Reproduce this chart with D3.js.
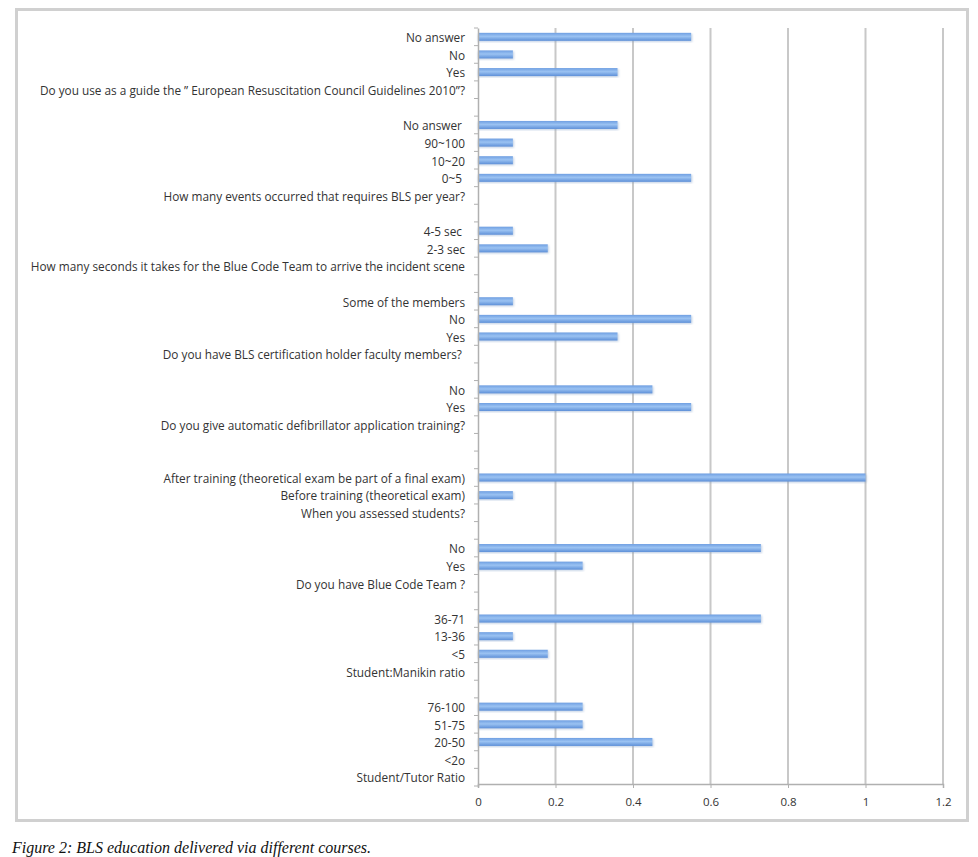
<!DOCTYPE html>
<html>
<head>
<meta charset="utf-8">
<script src="https://cdn.jsdelivr.net/npm/d3@7"></script>
<style>
	body { margin: 0; background: #fff; }
	svg text { font-family: "Open Sans", "DejaVu Sans", sans-serif; }
</style>
</head>
<body>
<div id="chart"></div>
<script>
// categories listed top to bottom, '' marks the blank spacer rows
var categories = [
	'No answer', 'No', 'Yes',
	'Do you use as a guide the \u201D European Resuscitation Council Guidelines 2010\u201D?', '',
	'No answer ', '90~100', '10~20', '0~5 ',
	'How many events occurred that requires BLS per year?', '',
	'4-5 sec ', '2-3 sec',
	'How many seconds it takes for the Blue Code Team to arrive the incident scene', '',
	'Some of the members', 'No', 'Yes',
	'Do you have BLS certification holder faculty members? ', '',
	'No', 'Yes',
	'Do you give automatic defibrillator application training?', '', '',
	'After training (theoretical exam be part of a final exam)', 'Before training (theoretical exam)',
	'When you assessed students?', '',
	'No', 'Yes',
	'Do you have Blue Code Team ?', '',
	'36-71', '13-36', '<5',
	'Student:Manikin ratio', '',
	'76-100', '51-75', '20-50', '<2o',
	'Student/Tutor Ratio'
];

var values = [
	0.55, 0.09, 0.36, 0, 0,
	0.36, 0.09, 0.09, 0.55, 0, 0,
	0.09, 0.18, 0, 0,
	0.09, 0.55, 0.36, 0, 0,
	0.45, 0.55, 0, 0, 0,
	1.0, 0.09, 0, 0,
	0.73, 0.27, 0, 0,
	0.73, 0.09, 0.18, 0, 0,
	0.27, 0.27, 0.45, 0, 0
];

var xTicks = [0, 0.2, 0.4, 0.6, 0.8, 1, 1.2];

var caption = 'Figure 2: BLS education delivered via different courses.';

var W = 978, H = 857;
var margin = {top: 28, bottom: 786, left: 478, right: 943};

var svg = d3.select('#chart')
	.append('svg')
	.attr('width', W)
	.attr('height', H);

// bar gradient, glossy Excel look
var defs = svg.append('defs');
var grad = defs.append('linearGradient')
	.attr('id', 'barGrad')
	.attr('x1', 0).attr('y1', 0).attr('x2', 0).attr('y2', 1);
grad.append('stop').attr('offset', '0%').attr('stop-color', '#6f9fe2');
grad.append('stop').attr('offset', '45%').attr('stop-color', '#9ac2f2');
grad.append('stop').attr('offset', '100%').attr('stop-color', '#5e90d8');

defs.append('filter')
	.attr('id', 'soft')
	.append('feGaussianBlur')
	.attr('stdDeviation', 1);

// outer frame
svg.append('rect')
	.attr('x', 16.5).attr('y', 9.5)
	.attr('width', 951).attr('height', 811)
	.attr('fill', '#fff')
	.attr('stroke', '#d0d0d0')
	.attr('stroke-width', 3);

var x = d3.scaleLinear()
	.domain([0, 1.2])
	.range([margin.left, margin.right]);

var y = d3.scaleBand()
	.domain(d3.range(categories.length))
	.range([margin.top, margin.bottom]);

// vertical grid lines
svg.append('g')
	.selectAll('line')
	.data(xTicks.slice(1))
	.enter()
	.append('line')
	.attr('x1', function(d) { return x(d); })
	.attr('x2', function(d) { return x(d); })
	.attr('y1', margin.top)
	.attr('y2', margin.bottom - 2)
	.attr('stroke', '#c8c8c8')
	.attr('stroke-width', 2);

// bars with a soft shadow
var bh = 8;
var rows = values.map(function(v, i) { return {i: i, v: v}; })
	.filter(function(d) { return d.v > 0; });

var bars = svg.append('g')
	.selectAll('g')
	.data(rows)
	.enter()
	.append('g')
	.attr('transform', function(d) {
		return 'translate(0,' + (y(d.i) + y.bandwidth() / 2 - bh / 2) + ')';
	});

bars.append('rect')
	.attr('x', x(0))
	.attr('y', 1)
	.attr('width', function(d) { return x(d.v) - x(0) + 1; })
	.attr('height', bh)
	.attr('fill', '#7f9ec8')
	.attr('opacity', 0.5)
	.attr('filter', 'url(#soft)');

bars.append('rect')
	.attr('x', x(0))
	.attr('width', function(d) { return x(d.v) - x(0); })
	.attr('height', bh)
	.attr('fill', 'url(#barGrad)');

// left axis
var yAxis = d3.axisLeft(y)
	.tickSize(0)
	.tickPadding(13)
	.tickFormat(function(i) { return categories[i]; });

var ya = svg.append('g')
	.attr('transform', 'translate(' + margin.left + ',0)')
	.call(yAxis);
ya.select('.domain').attr('stroke', '#b0b0b0').attr('stroke-width', 1.5);
ya.selectAll('text')
	.attr('fill', '#333')
	.attr('dy', '0.45em')
	.style('font-size', '11.8px')
	.style('white-space', 'pre');

// category boundary ticks
svg.append('g')
	.selectAll('line')
	.data(d3.range(categories.length + 1))
	.enter()
	.append('line')
	.attr('x1', margin.left - 4)
	.attr('x2', margin.left)
	.attr('y1', function(i) { return margin.top + i * y.step(); })
	.attr('y2', function(i) { return margin.top + i * y.step(); })
	.attr('stroke', '#b0b0b0');

// bottom axis
var xAxis = d3.axisBottom(x)
	.tickValues(xTicks)
	.tickSize(4)
	.tickPadding(10)
	.tickFormat(d3.format('~g'));

var xa = svg.append('g')
	.attr('transform', 'translate(0,' + (margin.bottom - 2) + ')')
	.call(xAxis);
xa.select('.domain').attr('stroke', '#b0b0b0').attr('stroke-width', 1.5);
xa.selectAll('.tick line').attr('stroke', '#b0b0b0');
xa.selectAll('text')
	.attr('fill', '#333')
	.style('font-size', '11.5px');

// caption
svg.append('text')
	.attr('x', 12)
	.attr('y', 853)
	.text(caption)
	.style('font-family', '"Liberation Serif", "DejaVu Serif", serif')
	.style('font-style', 'italic')
	.style('font-size', '16px')
	.attr('fill', '#111');
</script>
</body>
</html>
